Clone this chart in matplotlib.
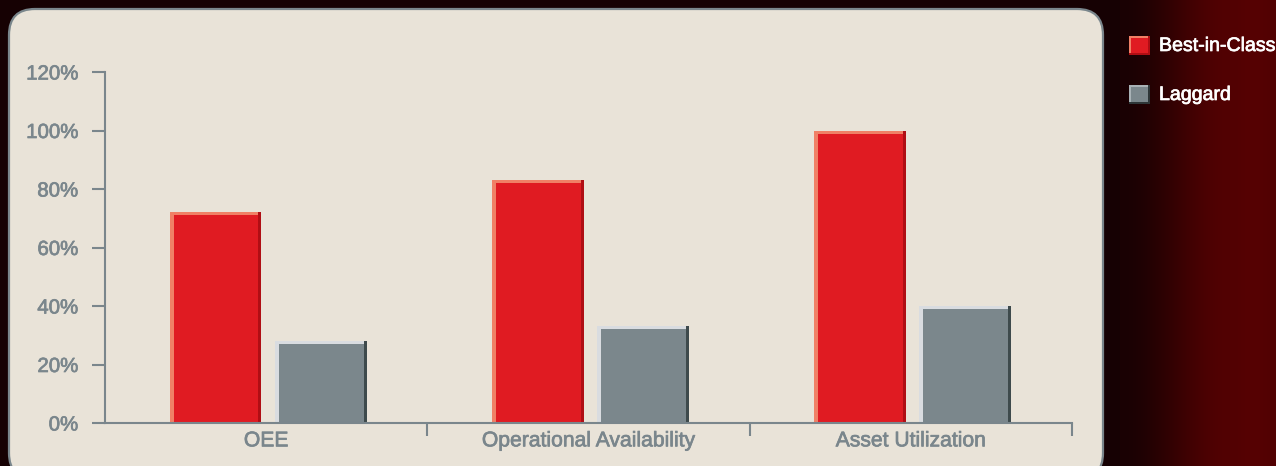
import numpy as np
import matplotlib
matplotlib.use("Agg")
import matplotlib.pyplot as plt
import matplotlib.patheffects as pe
from matplotlib.patches import FancyBboxPatch, Rectangle

plt.rcParams['font.family'] = ['Liberation Sans', 'DejaVu Sans']

# ---- data ----
categories = ["OEE", "Operational Availability", "Asset Utilization"]
series_names = ["Best-in-Class", "Laggard"]
best_in_class = [72, 83, 100]
laggard = [28, 33, 40]
y_ticks = [0, 20, 40, 60, 80, 100, 120]
y_tick_labels = ["0%", "20%", "40%", "60%", "80%", "100%", "120%"]

# ---- styles ----
W, H = 1276, 466
AXIS_C = "#7A868C"
PANEL_C = "#E9E3D8"
RED = "#E01B22"; RED_LIGHT = "#F08066"; RED_DARK = "#B00E14"
GRAY = "#7B878C"; GRAY_LIGHT = "#D9DCE0"; GRAY_DARK = "#3E4A4C"

fig = plt.figure(figsize=(W / 100, H / 100), dpi=100)

# background axes in pixel coordinates
bg = fig.add_axes([0, 0, 1, 1])
bg.set_xlim(0, W); bg.set_ylim(H, 0); bg.axis('off')
xs = np.arange(W, dtype=float)
def ramp(x, x0, x1, c0, c1):
    t = np.clip((x - x0) / (x1 - x0), 0, 1)
    t = t * t * (3 - 2 * t)
    return c0 + (c1 - c0) * t
r = np.where(xs < 1120, 22.0, ramp(xs, 1120, 1230, 26.0, 82.0))
r = r + np.where(xs > 1230, 4 * np.sin((xs - 1230) / 14.0) ** 2, 0)
g = np.full(W, 1.0)
b = np.where(xs < 1150, 3.0, 2.0)
row = np.stack([r, g, b], axis=-1) / 255.0
img = np.repeat(row[None, :, :], H, axis=0)
bg.imshow(img, extent=(0, W, H, 0), aspect='auto', zorder=0)

panel = FancyBboxPatch((9, 9), 1094, 470, boxstyle="round,pad=0,rounding_size=26",
                       facecolor=PANEL_C, edgecolor=AXIS_C, linewidth=1.6, zorder=1)
bg.add_patch(panel)

# legend (figure pixel coords)
leg_fill = [(RED, RED_LIGHT, RED_DARK), (GRAY, "#A9B2B6", "#2E3638")]
for i, name in enumerate(series_names):
    y0 = 36 + i * 49
    fc, lc, dc = leg_fill[i]
    bg.add_patch(Rectangle((1129, y0), 20, 18, facecolor=fc, edgecolor='none', zorder=3))
    bg.add_patch(Rectangle((1129, y0), 20, 2, facecolor=lc, edgecolor='none', zorder=4))
    bg.add_patch(Rectangle((1129, y0), 2, 18, facecolor=lc, edgecolor='none', zorder=4))
    bg.add_patch(Rectangle((1129, y0 + 17), 20, 2, facecolor=dc, edgecolor='none', zorder=4))
    bg.add_patch(Rectangle((1148, y0), 2, 19, facecolor=dc, edgecolor='none', zorder=4))
    bg.text(1159, y0 + 9.5, name, color="white", fontsize=14.1, va='center', ha='left', zorder=5,
            path_effects=[pe.withStroke(linewidth=0.5, foreground="white")])

# main axes
ax = fig.add_axes([105 / W, 43 / H, 967 / W, 351 / H])
ax.set_facecolor('none')
ax.set_xlim(-0.5, 2.5)
ax.set_ylim(0, 120)

x = np.arange(len(categories))
bw = 0.285
off = 0.163
shift = 0.006
lw_ = 4 / 322.3
rw_ = 3 / 322.3
th = 3 / 2.925

def bar3d(xc, vals, fc, lc, dc):
    ax.bar(xc, vals, width=bw, color=fc, edgecolor='none', zorder=2)
    ax.bar(xc - bw / 2 + lw_ / 2, vals, width=lw_, color=lc, edgecolor='none', zorder=3)
    ax.bar(xc + bw / 2 - rw_ / 2, vals, width=rw_, color=dc, edgecolor='none', zorder=3)
    ax.bar(xc - rw_ / 2, [th] * len(vals), width=bw - rw_, bottom=np.array(vals) - th,
           color=lc, edgecolor='none', zorder=4)

bar3d(x - off + shift, best_in_class, RED, RED_LIGHT, RED_DARK)
bar3d(x + off + shift, laggard, GRAY, GRAY_LIGHT, GRAY_DARK)

for s in ['top', 'right']:
    ax.spines[s].set_visible(False)
for s in ['left', 'bottom']:
    ax.spines[s].set_color(AXIS_C)
    ax.spines[s].set_linewidth(1.5)
    ax.spines[s].set_zorder(5)

stroke = [pe.withStroke(linewidth=0.5, foreground=AXIS_C)]
ax.set_yticks(y_ticks)
ax.set_yticklabels(y_tick_labels)
ax.tick_params(axis='y', length=9.4, width=1.5, color=AXIS_C, pad=10,
               labelsize=14.7, labelcolor=AXIS_C)
ax.set_xticks(x)
ax.set_xticklabels(categories)
ax.tick_params(axis='x', which='major', length=0, pad=6, labelsize=15.2, labelcolor=AXIS_C)
ax.set_xticks([0.5, 1.5, 2.5], minor=True)
ax.tick_params(axis='x', which='minor', length=9.4, width=1.5, color=AXIS_C, direction='out')
for t in ax.get_xticklabels() + ax.get_yticklabels():
    t.set_path_effects(stroke)

fig.savefig("out.png", dpi=100)
